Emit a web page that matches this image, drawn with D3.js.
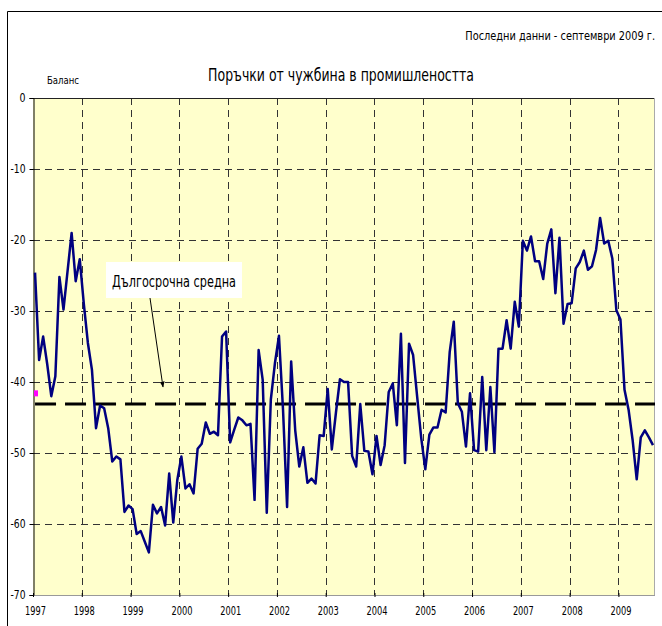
<!DOCTYPE html>
<html><head><meta charset="utf-8">
<script src="https://cdn.jsdelivr.net/npm/d3@7"></script>
<style>
html,body{margin:0;padding:0;background:#fff;}
svg{display:block;}
text{font-family:"Liberation Sans Narrow","DejaVu Sans Condensed","Liberation Sans",Arial,sans-serif;fill:#000;}
</style></head>
<body>
<script>
// ---- data ----
const years = ["1997","1998","1999","2000","2001","2002","2003","2004","2005","2006","2007","2008","2009"];
const yTicks = [0,-10,-20,-30,-40,-50,-60,-70];
const balance = [
 -24.6,-36.9,-33.6,-37.5,-42.0,-39.2,-25.2,-29.8,-24.4,-19.0,-25.8,-22.7,
 -29.0,-34.5,-38.3,-46.5,-43.3,-43.7,-46.5,-51.2,-50.5,-50.9,-58.3,-57.4,
 -57.9,-61.4,-61.0,-62.5,-64.0,-57.3,-58.5,-57.6,-60.2,-52.9,-59.8,-53.8,
 -50.5,-55.0,-54.4,-55.7,-49.4,-48.7,-45.7,-47.3,-47.0,-47.5,-33.6,-32.9,
 -48.5,-46.7,-45.0,-45.4,-46.1,-45.9,-56.6,-35.5,-39.7,-58.4,-42.5,-37.4,
 -33.5,-43.9,-57.6,-37.1,-46.8,-51.9,-49.2,-54.2,-53.6,-54.3,-47.5,-47.6,
 -41.0,-49.5,-44.4,-39.6,-40.0,-40.0,-50.4,-51.9,-43.1,-49.7,-49.8,-53.0,
 -47.6,-51.7,-48.9,-41.4,-40.2,-46.1,-33.2,-51.4,-34.6,-36.2,-42.1,-47.9,
 -52.3,-47.4,-46.4,-46.4,-43.9,-44.3,-35.8,-31.5,-43.0,-44.2,-49.1,-41.6,
 -49.6,-49.8,-39.3,-49.6,-40.7,-49.9,-35.3,-35.3,-31.3,-35.3,-28.7,-32.2,
 -20.1,-21.5,-19.5,-23.0,-23.0,-25.5,-20.5,-18.5,-27.5,-19.7,-31.8,-29.0,
 -28.9,-24.0,-23.1,-21.5,-24.2,-23.7,-21.4,-16.9,-20.5,-20.1,-22.6,-29.9,
 -31.2,-41.1,-43.9,-48.2,-53.7,-47.8,-46.8,-47.8,-48.9
];
const longTermAverage = -43.1;
const title = "Поръчки от чужбина в промишлеността";
const subtitle = "Последни данни - септември 2009 г.";
const yLabel = "Баланс";
const avgLabel = "Дългосрочна средна";

// ---- layout ----
const W = 662, H = 626;
const L = 33, R = 655, T = 98, B = 595;
const svg = d3.select("body").append("svg").attr("width", W).attr("height", H);

// place a text and squeeze it horizontally to a target width
function fitText(str, px, py, size, anchor, target) {
  const t = svg.append("text").attr("x", 0).attr("y", 0).attr("text-anchor", anchor)
    .style("font-size", size + "px").text(str);
  const w = t.node().getComputedTextLength();
  const s = Math.min(1, target / w);
  t.attr("transform", `translate(${px},${py}) scale(${s},1)`);
  return t;
}

// outer frame
svg.append("path").attr("d", `M7.5,${H} V11.5 H${W}`).attr("fill","none").attr("stroke","#000").attr("stroke-width",1);

const x = d3.scaleLinear().domain([0, balance.length]).range([L, R]);
const y = d3.scaleLinear().domain([-70, 0]).range([B, T]);

// plot background
svg.append("rect").attr("x", L).attr("y", T).attr("width", R - L).attr("height", B - T).attr("fill", "#FFFFCC");

// horizontal grid
svg.append("g").selectAll("line").data(yTicks.filter(d => d > -70 && d < 0)).join("line")
  .attr("x1", L).attr("x2", R).attr("y1", d => Math.round(y(d)) + 0.5).attr("y2", d => Math.round(y(d)) + 0.5)
  .attr("stroke", "#333").attr("stroke-width", 1).attr("stroke-dasharray", "7,5");

// vertical grid at year boundaries
const yearBounds = d3.range(1, years.length).map(k => k * 12);
svg.append("g").selectAll("line").data(yearBounds).join("line")
  .attr("x1", d => Math.round(x(d)) + 0.5).attr("x2", d => Math.round(x(d)) + 0.5)
  .attr("y1", T).attr("y2", B)
  .attr("stroke", "#333").attr("stroke-width", 1).attr("stroke-dasharray", "7,5");

// plot borders
svg.append("line").attr("x1", L).attr("x2", R).attr("y1", T + 0.5).attr("y2", T + 0.5).attr("stroke", "#222");
svg.append("line").attr("x1", R - 0.5).attr("x2", R - 0.5).attr("y1", T).attr("y2", B).attr("stroke", "#aaa");
svg.append("line").attr("x1", L).attr("x2", R).attr("y1", B + 0.5).attr("y2", B + 0.5).attr("stroke", "#999");

// y axis
const yAxis = d3.axisLeft(y).tickValues(yTicks).tickSize(4).tickPadding(4).tickFormat(d => String(d));
const gy = svg.append("g").attr("transform", `translate(${L + 0.5},0)`).call(yAxis);
gy.select(".domain").attr("stroke", "#000");
gy.selectAll(".tick line").attr("stroke", "#000");
gy.selectAll("text").style("font-size", "12px").attr("fill", "#000")
  .attr("textLength", d => d === 0 ? 6 : 15).attr("lengthAdjust", "spacingAndGlyphs");

// x axis ticks (year boundaries)
const xTickAxis = d3.axisBottom(x).tickValues(d3.range(0, years.length + 1).map(k => k * 12).filter(v => v <= balance.length)).tickSize(4).tickFormat("");
const gxt = svg.append("g").attr("transform", `translate(0,${B - 2})`).call(xTickAxis);
gxt.select(".domain").remove();
gxt.selectAll(".tick line").attr("stroke", "#000");
// x labels at first month of each year
const xLabAxis = d3.axisBottom(x).tickValues(years.map((d, k) => k * 12 + 0.5)).tickSize(0).tickPadding(11)
  .tickFormat((d, k) => years[k]);
const gxl = svg.append("g").attr("transform", `translate(0,${B})`).call(xLabAxis);
gxl.select(".domain").remove();
gxl.selectAll("text").style("font-size", "12.5px").attr("fill", "#000")
  .attr("textLength", 21).attr("lengthAdjust", "spacingAndGlyphs");

// long-term average line
svg.append("line").attr("x1", x(0.5)).attr("x2", R).attr("y1", y(longTermAverage)).attr("y2", y(longTermAverage))
  .attr("stroke", "#000").attr("stroke-width", 3).attr("stroke-dasharray", "21,9");

// series line
const line = d3.line().x((d, i) => x(i + 0.5)).y(d => y(d));
svg.append("path").datum(balance).attr("d", line).attr("fill", "none")
  .attr("stroke", "#000080").attr("stroke-width", 2.5).attr("stroke-linejoin", "round");

// magenta marker on the axis
svg.append("rect").attr("x", L + 1).attr("y", y(-41.6) - 3).attr("width", 4).attr("height", 6).attr("fill", "#FF00FF");

// annotation box + arrow
svg.append("rect").attr("x", 106).attr("y", 262).attr("width", 136).attr("height", 36).attr("fill", "#fff");
fitText(avgLabel, 174, 287, 16, "middle", 124);
svg.append("defs").append("marker").attr("id", "ah").attr("viewBox", "0 0 10 10").attr("refX", 9).attr("refY", 5)
  .attr("markerWidth", 6).attr("markerHeight", 6).attr("orient", "auto")
  .append("path").attr("d", "M0,1 L10,5 L0,9 Z").attr("fill", "#000");
svg.append("line").attr("x1", 150).attr("y1", 298).attr("x2", 163).attr("y2", 387)
  .attr("stroke", "#000").attr("stroke-width", 1).attr("marker-end", "url(#ah)");

// texts
fitText(title, 341, 81, 18, "middle", 266);
fitText(subtitle, 655, 40, 13, "end", 190);
fitText(yLabel, 47, 84, 11, "start", 32);
</script>
</body></html>
